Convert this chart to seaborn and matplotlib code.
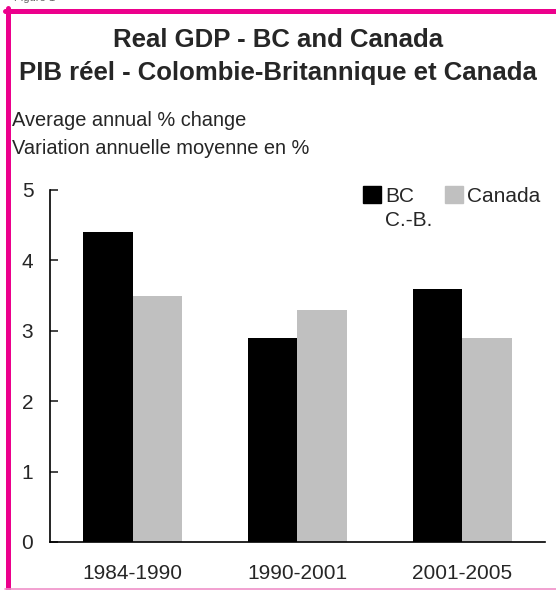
import pandas as pd
import matplotlib.pyplot as plt
import seaborn as sns
from matplotlib.lines import Line2D

periods = ["1984-1990", "1990-2001", "2001-2005"]
bc = [4.4, 2.9, 3.6]
canada = [3.5, 3.3, 2.9]

df = pd.DataFrame({
    "period": periods * 2,
    "region": ["BC"] * 3 + ["Canada"] * 3,
    "value": bc + canada,
})

sns.set_style("white")
plt.rcParams["font.family"] = ["Liberation Sans", "DejaVu Sans"]

fig = plt.figure(figsize=(5.56, 5.90), dpi=100)
ax = fig.add_axes([0.09, 0.0814, 0.89, 0.5966])

sns.barplot(data=df, x="period", y="value", hue="region",
            palette=["#000000", "#C0C0C0"], width=0.6, gap=0,
            saturation=1, linewidth=0, ax=ax, legend=False)

ax.set_ylim(0, 5)
ax.set_xlim(-0.5, 2.5)
ax.set_yticks([0, 1, 2, 3, 4, 5])
ax.set_xlabel("")
ax.set_ylabel("")
for s in ["top", "right"]:
    ax.spines[s].set_visible(False)
for s in ["left", "bottom"]:
    ax.spines[s].set_color("black")
    ax.spines[s].set_linewidth(1.2)
ax.tick_params(axis="y", direction="in", length=6, width=1.2, pad=12,
               labelsize=15, left=True)
ax.tick_params(axis="x", length=0, pad=16, labelsize=15)

# legend
handles = [plt.Rectangle((0, 0), 1, 1, color="#000000"),
           plt.Rectangle((0, 0), 1, 1, color="#C0C0C0")]
fig.legend(handles, ["BC", "Canada"], ncol=2, frameon=False,
           loc="upper left", bbox_to_anchor=(363 / 556, 1 - 186 / 590),
           fontsize=15, handlelength=0.85, handleheight=0.85,
           handletextpad=0.2, columnspacing=1.5, borderaxespad=0,
           borderpad=0)
fig.text(385 / 556, 1 - 220 / 590, "C.-B.", fontsize=15, va="center")

# titles
fig.text(0.5, 1 - 40 / 590, "Real GDP - BC and Canada", ha="center",
         va="center", fontsize=18.5, fontweight="bold")
fig.text(0.5, 1 - 73 / 590, "PIB réel - Colombie-Britannique et Canada",
         ha="center", va="center", fontsize=18.5, fontweight="bold")
fig.text(12 / 556, 1 - 121 / 590, "Average annual % change", va="center",
         fontsize=14.4)
fig.text(12 / 556, 1 - 148 / 590, "Variation annuelle moyenne en %",
         va="center", fontsize=14.4)
fig.text(0.025, 1 - 1.0 / 590, "Figure 1", va="baseline", fontsize=8,
         color="#666666")

# pink frame
pink = "#EC008C"
fig.add_artist(Line2D([5 / 556, 1.0], [1 - 10.5 / 590] * 2,
                      transform=fig.transFigure, color=pink, lw=3.6))
fig.add_artist(Line2D([7.5 / 556] * 2, [0, 1 - 8 / 590],
                      transform=fig.transFigure, color=pink, lw=3.6))
fig.add_artist(Line2D([5 / 556, 1.0], [1.5 / 590] * 2,
                      transform=fig.transFigure, color="#F090C8", lw=1.2))

fig.savefig("out.png", dpi=100)
